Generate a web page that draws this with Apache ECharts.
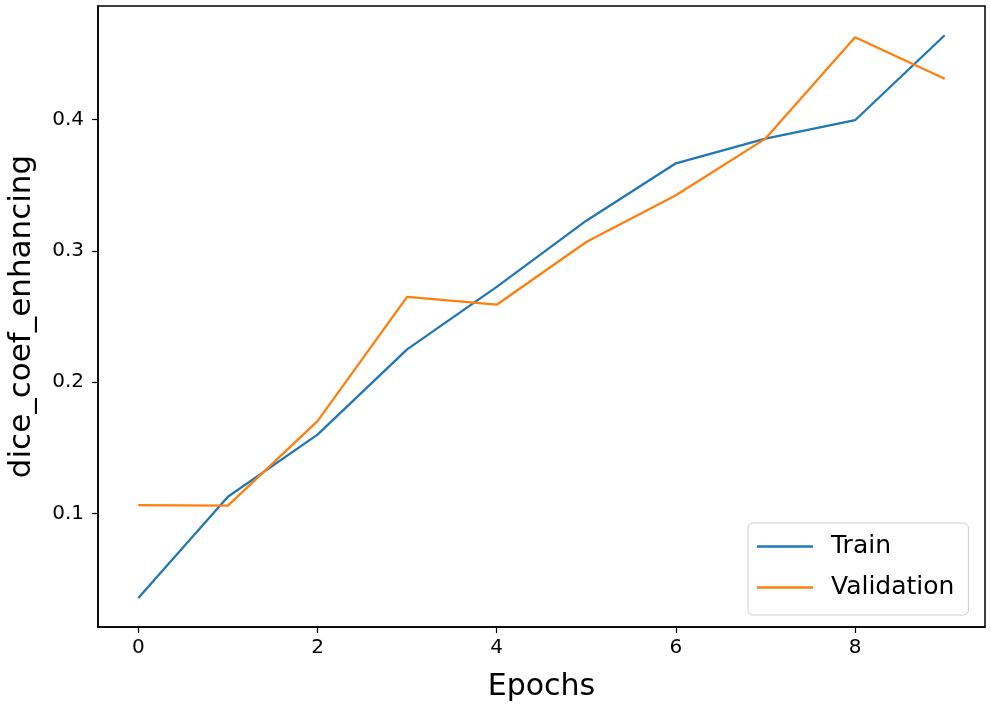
<!DOCTYPE html>
<html><head><meta charset="utf-8">
<script src="https://cdn.jsdelivr.net/npm/echarts@6/dist/echarts.min.js"></script>
<style>html,body{margin:0;padding:0;background:#fff}#c{width:991px;height:711px}</style>
</head><body><div id="c"></div>
<script>
const epochs = [0,1,2,3,4,5,6,7,8,9];
const train = [0.0356,0.1127,0.160,0.225,0.2726,0.323,0.3667,0.3855,0.3995,0.4642];
const validation = [0.1064,0.1060,0.1703,0.265,0.259,0.3067,0.3424,0.3855,0.4627,0.4311];
const xTicks = [0,2,4,6,8];
const yTicks = [0.1,0.2,0.3,0.4];

const chart = echarts.init(document.getElementById('c'));
const font = 'DejaVu Sans';
chart.setOption({
  animation:false,
  grid:{left:98,right:6,top:6,bottom:84,outerBoundsMode:'none',containLabel:false,show:true,borderColor:'#000',borderWidth:1.5,backgroundColor:'#fff'},
  xAxis:{type:'value',min:-0.45,max:9.45,
    name:'Epochs',nameLocation:'middle',nameGap:45,
    nameTextStyle:{fontFamily:font,fontSize:30,color:'#000'},
    axisLine:{show:true,onZero:false,lineStyle:{color:'#000',width:1.5}},
    axisTick:{show:true,length:6,customValues:xTicks,lineStyle:{color:'#000',width:1.2}},
    axisLabel:{customValues:xTicks,fontFamily:font,fontSize:20,color:'#000',margin:11},
    splitLine:{show:false}},
  yAxis:{type:'value',min:0.0135,max:0.4865,
    name:'dice_coef_enhancing',nameLocation:'middle',nameGap:61,
    nameTextStyle:{fontFamily:font,fontSize:31,color:'#000'},
    axisLine:{show:true,onZero:false,lineStyle:{color:'#000',width:1.5}},
    axisTick:{show:true,length:6,customValues:yTicks,lineStyle:{color:'#000',width:1.2}},
    axisLabel:{customValues:yTicks,fontFamily:font,fontSize:20,color:'#000',margin:14,formatter:v=>v.toFixed(1)},
    splitLine:{show:false}},
  legend:{left:748,top:523,orient:'vertical',itemWidth:56,itemHeight:2.5,itemGap:16,
    padding:[11,14,15,9],borderColor:'#ccc',borderWidth:1,borderRadius:5,backgroundColor:'#fff',
    textStyle:{fontFamily:font,fontSize:25,color:'#000',padding:[0,0,0,13]},
    data:[{name:'Train',icon:'rect'},{name:'Validation',icon:'rect'}]},
  series:[
    {name:'Train',type:'line',data:epochs.map((e,i)=>[e,train[i]]),symbol:'none',color:'#1f77b4',lineStyle:{width:2.3}},
    {name:'Validation',type:'line',data:epochs.map((e,i)=>[e,validation[i]]),symbol:'none',color:'#ff7f0e',lineStyle:{width:2.3}}
  ]
});
</script></body></html>
